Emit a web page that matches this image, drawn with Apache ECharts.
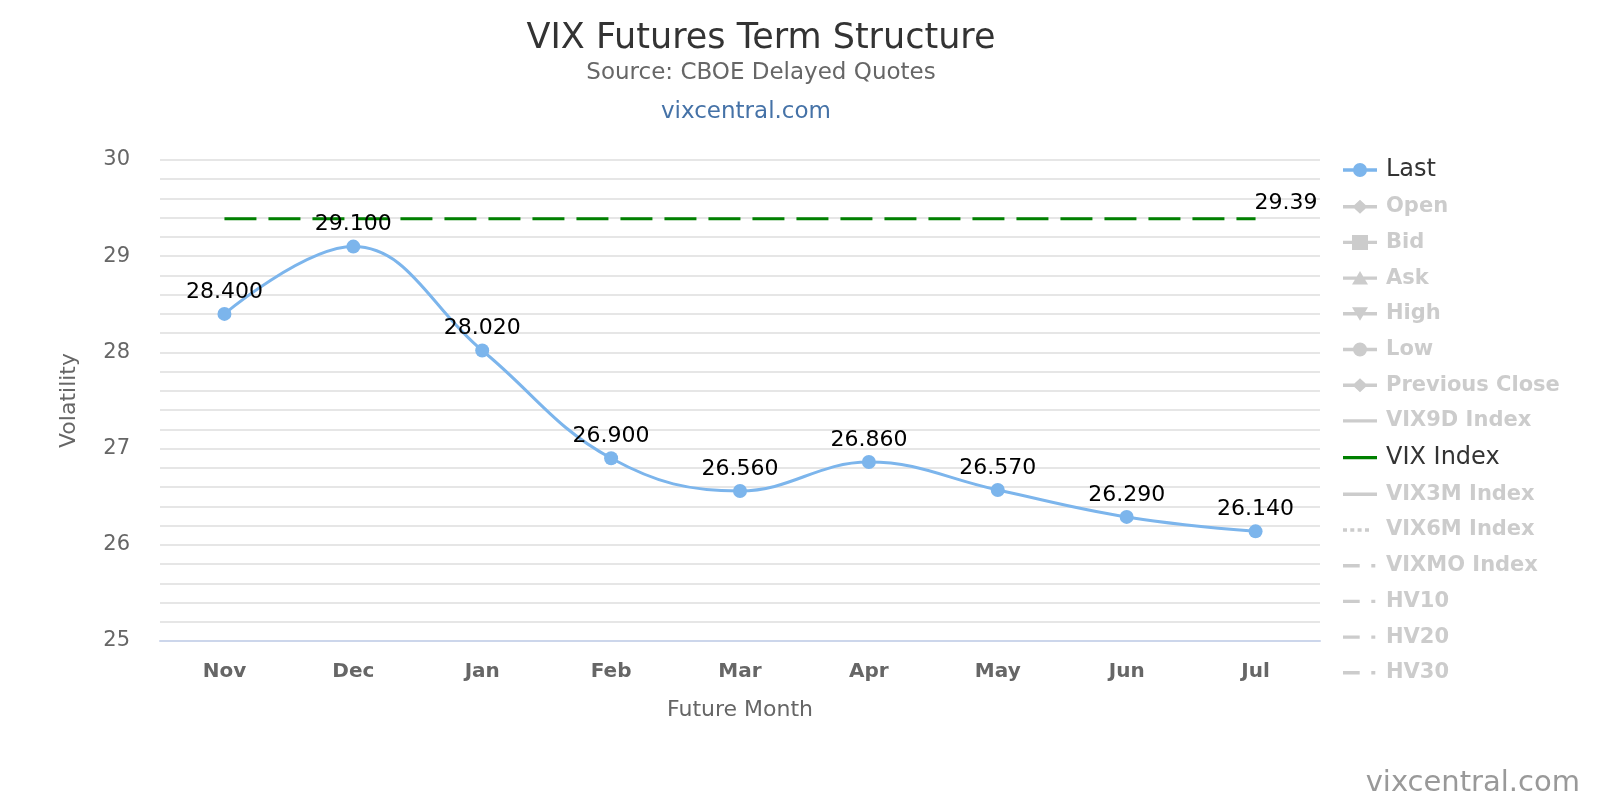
<!DOCTYPE html>
<html>
<head>
<meta charset="utf-8">
<script src="https://cdn.jsdelivr.net/npm/echarts@6/dist/echarts.min.js"></script>
<style>
html,body{margin:0;padding:0;background:#fff;}
#c{width:1600px;height:800px;}
</style>
</head>
<body>
<div id="c"></div>
<script>
const categories = ['Nov', 'Dec', 'Jan', 'Feb', 'Mar', 'Apr', 'May', 'Jun', 'Jul'];
const lastValues = [28.40, 29.10, 28.02, 26.90, 26.56, 26.86, 26.57, 26.29, 26.14];
const vixIndexValues = [29.39, 29.39, 29.39, 29.39, 29.39, 29.39, 29.39, 29.39, 29.39];
const yMin = 25, yMax = 30, yStep = 1;
const legendNames = ['Last', 'Open', 'Bid', 'Ask', 'High', 'Low', 'Previous Close',
  'VIX9D Index', 'VIX Index', 'VIX3M Index', 'VIX6M Index', 'VIXMO Index', 'HV10', 'HV20', 'HV30'];
const activeNames = ['Last', 'VIX Index'];

const FONT = '"DejaVu Sans", Verdana, sans-serif';
const chart = echarts.init(document.getElementById('c'), null, {renderer: 'canvas'});

// legend icon shapes (drawn in a 38x16 box)
const BB = 'M0,0L0,0M38,16L38,16';
const LINE = 'M0,6.3L34,6.3L34,9.7L0,9.7Z';
const SHAPES = {
  circle: 'M10,8A7,7 0 1,1 24,8A7,7 0 1,1 10,8Z',
  diamond: 'M17,1L24.5,8L17,15L9.5,8Z',
  square: 'M9,0.5L25,0.5L25,15.5L9,15.5Z',
  up: 'M17,1L25,14.5L9,14.5Z',
  down: 'M9,1.5L25,1.5L17,15Z',
  dots: 'M0,6.3L4,6.3L4,9.7L0,9.7Z M7.3,6.3L11.3,6.3L11.3,9.7L7.3,9.7Z M14.6,6.3L18.6,6.3L18.6,9.7L14.6,9.7Z M22,6.3L26,6.3L26,9.7L22,9.7Z',
  dashdot: 'M0,6.3L16.7,6.3L16.7,9.7L0,9.7Z M28.3,6.3L32.3,6.3L32.3,9.7L28.3,9.7Z'
};
function icon(kind) {
  if (kind === 'dots' || kind === 'dashdot') return 'path://' + BB + SHAPES[kind];
  return 'path://' + BB + LINE + (kind ? SHAPES[kind] : '');
}
const legendIcons = {
  'Last': 'circle', 'Open': 'diamond', 'Bid': 'square', 'Ask': 'up', 'High': 'down',
  'Low': 'circle', 'Previous Close': 'diamond', 'VIX9D Index': null, 'VIX Index': null,
  'VIX3M Index': null, 'VIX6M Index': 'dots', 'VIXMO Index': 'dashdot',
  'HV10': 'dashdot', 'HV20': 'dashdot', 'HV30': 'dashdot'
};

function emptySeries(name) {
  return {name: name, type: 'line', data: [], symbol: 'none', lineStyle: {width: 3}};
}

const selected = {};
legendNames.forEach(n => { selected[n] = activeNames.indexOf(n) >= 0; });

const option = {
  animation: false,
  textStyle: {fontFamily: FONT},
  graphic: [
    {type: 'text', x: 761, y: 39, style: {text: 'VIX Futures Term Structure', font: '35px ' + FONT, fill: '#333333', textAlign: 'center', textVerticalAlign: 'middle'}},
    {type: 'text', x: 761, y: 73, style: {text: 'Source: CBOE Delayed Quotes', font: '23px ' + FONT, fill: '#666666', textAlign: 'center', textVerticalAlign: 'middle'}},
    {type: 'text', x: 746, y: 112, style: {text: 'vixcentral.com', font: '23px ' + FONT, fill: '#4572a7', textAlign: 'center', textVerticalAlign: 'middle'}},
    {type: 'text', x: 1580, y: 783, style: {text: 'vixcentral.com', font: '29px ' + FONT, fill: '#999999', textAlign: 'right', textVerticalAlign: 'middle'}}
  ],
  legend: {
    orient: 'vertical', left: 1343, top: 158, padding: 0,
    itemWidth: 38, itemHeight: 16, itemGap: 13.7,
    inactiveColor: '#cccccc', inactiveBorderColor: '#cccccc',
    itemStyle: {borderWidth: 0},
    selected: selected,
    selectedMode: false,
    textStyle: {fontSize: 21, color: '#333333', fontWeight: 'bold', lineHeight: 22, fontFamily: FONT},
    data: legendNames.map(n => {
      const o = {name: n, icon: icon(legendIcons[n])};
      if (activeNames.indexOf(n) >= 0) o.textStyle = {fontWeight: 'normal', fontSize: 24, lineHeight: 22};
      return o;
    })
  },
  grid: {left: 160, right: 280, top: 160, bottom: 159, containLabel: false},
  xAxis: {
    type: 'category', data: categories, boundaryGap: true,
    name: 'Future Month', nameLocation: 'middle', nameGap: 58,
    nameTextStyle: {fontSize: 22, color: '#666666'},
    axisLine: {show: true, lineStyle: {color: '#ccd6eb', width: 2}},
    axisTick: {show: false},
    axisLabel: {fontSize: 20, fontWeight: 'bold', color: '#666666', margin: 21}
  },
  yAxis: {
    type: 'value', min: yMin, max: yMax, interval: yStep,
    name: 'Volatility', nameLocation: 'middle', nameGap: 80,
    nameTextStyle: {fontSize: 22, color: '#666666'},
    axisLine: {show: false}, axisTick: {show: false},
    axisLabel: {fontSize: 21, color: '#666666', margin: 30, padding: [6, 0, 0, 0]},
    splitLine: {show: true, lineStyle: {color: '#e6e6e6', width: 2}},
    minorTick: {show: false, splitNumber: 5},
    minorSplitLine: {show: true, lineStyle: {color: '#e6e6e6', width: 2}}
  },
  series: [
    {
      name: 'Last', type: 'line', data: lastValues, smooth: 0.4, z: 5,
      symbol: 'circle', symbolSize: 14,
      itemStyle: {color: '#7cb5ec'},
      lineStyle: {color: '#7cb5ec', width: 3},
      label: {
        show: true, position: 'top', distance: 4, fontSize: 22, color: '#000000',
        formatter: p => p.value.toFixed(3)
      }
    },
    emptySeries('Open'),
    emptySeries('Bid'),
    emptySeries('Ask'),
    emptySeries('High'),
    emptySeries('Low'),
    emptySeries('Previous Close'),
    emptySeries('VIX9D Index'),
    {
      name: 'VIX Index', type: 'line', data: vixIndexValues, z: 3,
      symbol: 'none', itemStyle: {color: '#008000'},
      lineStyle: {color: '#008000', width: 3, type: [32, 12]},
      endLabel: {
        show: true, offset: [-9, -15], fontSize: 22, color: '#000000',
        formatter: p => p.value.toFixed(2)
      }
    },
    emptySeries('VIX3M Index'),
    emptySeries('VIX6M Index'),
    emptySeries('VIXMO Index'),
    emptySeries('HV10'),
    emptySeries('HV20'),
    emptySeries('HV30')
  ]
};
chart.setOption(option);
</script>
</body>
</html>
